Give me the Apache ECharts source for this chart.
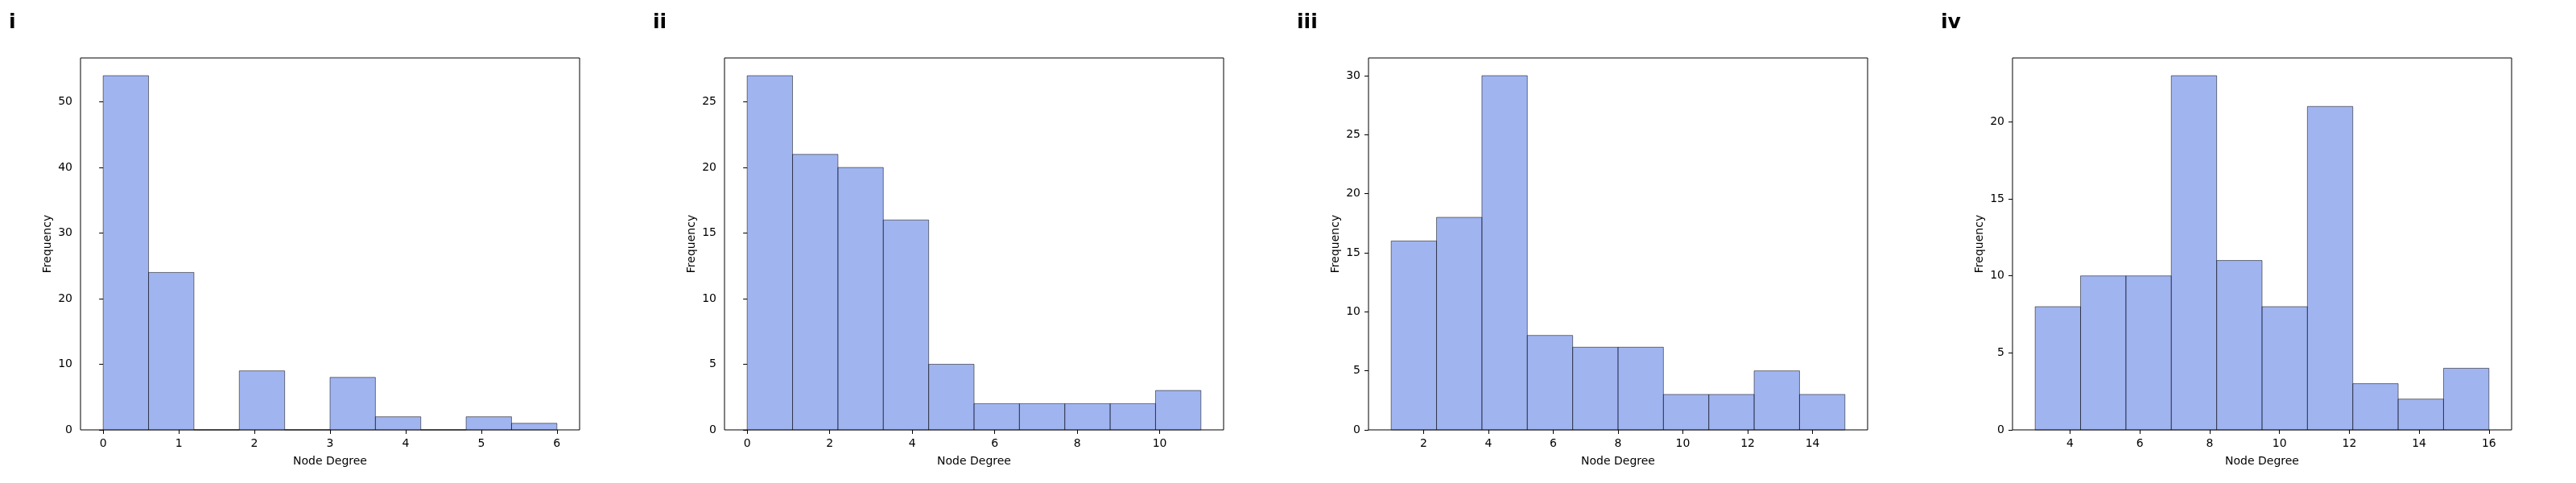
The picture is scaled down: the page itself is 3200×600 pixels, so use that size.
<!DOCTYPE html>
<html>
<head>
<meta charset="utf-8">
<script src="https://cdn.jsdelivr.net/npm/echarts@6/dist/echarts.min.js"></script>
<style>
  html, body { margin: 0; padding: 0; background: #fff; }
  #chart { width: 3200px; height: 600px; }
</style>
</head>
<body>
<div id="chart"></div>
<script>
// histogram bin edges and counts, one pair per panel
var edgesI = [0, 0.6, 1.2, 1.8, 2.4, 3.0, 3.6, 4.2, 4.8, 5.4, 6.0];
var countsI = [54, 24, 0, 9, 0, 8, 2, 0, 2, 1];

var edgesII = [0, 1.1, 2.2, 3.3, 4.4, 5.5, 6.6, 7.7, 8.8, 9.9, 11];
var countsII = [27, 21, 20, 16, 5, 2, 2, 2, 2, 3];

var edgesIII = [1, 2.4, 3.8, 5.2, 6.6, 8.0, 9.4, 10.8, 12.2, 13.6, 15];
var countsIII = [16, 18, 30, 8, 7, 7, 3, 3, 5, 3];

var edgesIV = [3, 4.3, 5.6, 6.9, 8.2, 9.5, 10.8, 12.1, 13.4, 14.7, 16];
var countsIV = [8, 10, 10, 23, 11, 8, 21, 3, 2, 4];

// tick labels
var xTicksI = [0, 1, 2, 3, 4, 5, 6];
var xTicksII = [0, 2, 4, 6, 8, 10];
var xTicksIII = [2, 4, 6, 8, 10, 12, 14];
var xTicksIV = [4, 6, 8, 10, 12, 14, 16];
var yTicksI = [0, 10, 20, 30, 40, 50];
var yTicksII = [0, 5, 10, 15, 20, 25];
var yTicksIII = [0, 5, 10, 15, 20, 25, 30];
var yTicksIV = [0, 5, 10, 15, 20];

var panelNames = ['i', 'ii', 'iii', 'iv'];

var panels = [
  { edges: edgesI, counts: countsI, xt: xTicksI, yt: yTicksI, xmin: -0.3, xmax: 6.3, ymax: 56.7 },
  { edges: edgesII, counts: countsII, xt: xTicksII, yt: yTicksII, xmin: -0.55, xmax: 11.55, ymax: 28.35 },
  { edges: edgesIII, counts: countsIII, xt: xTicksIII, yt: yTicksIII, xmin: 0.3, xmax: 15.7, ymax: 31.5 },
  { edges: edgesIV, counts: countsIV, xt: xTicksIV, yt: yTicksIV, xmin: 2.35, xmax: 16.65, ymax: 24.15 }
];

var font = 'DejaVu Sans';
var myChart = echarts.init(document.getElementById('chart'));

var grids = [], xAxes = [], yAxes = [], series = [], titles = [];

panels.forEach(function (p, k) {
  var x0 = 800 * k;
  grids.push({
    left: x0 + 100, top: 72, width: 620, height: 462,
    show: true, borderColor: '#000', borderWidth: 1, backgroundColor: 'transparent'
  });
  titles.push({
    text: panelNames[k], left: x0 + 6, top: 11,
    textStyle: { fontFamily: font, fontSize: 25, fontWeight: 'bold', color: '#000' }
  });
  xAxes.push({
    type: 'value', gridIndex: k, min: p.xmin, max: p.xmax,
    name: 'Node Degree', nameLocation: 'middle', nameGap: 32,
    nameTextStyle: { fontFamily: font, fontSize: 14, color: '#000' },
    axisLine: { show: false },
    axisTick: { show: true, length: 5, lineStyle: { color: '#000' }, customValues: p.xt },
    axisLabel: { fontFamily: font, fontSize: 14, color: '#000', margin: 10, customValues: p.xt },
    splitLine: { show: false }
  });
  yAxes.push({
    type: 'value', gridIndex: k, min: 0, max: p.ymax,
    name: 'Frequency', nameLocation: 'middle', nameGap: 34,
    nameTextStyle: { fontFamily: font, fontSize: 14, color: '#000' },
    axisLine: { show: false },
    axisTick: { show: true, length: 5, lineStyle: { color: '#000' }, customValues: p.yt },
    axisLabel: { fontFamily: font, fontSize: 14, color: '#000', margin: 10, customValues: p.yt },
    splitLine: { show: false }
  });
  var data = p.counts.map(function (c, i) {
    return [p.edges[i], p.edges[i + 1], c];
  });
  series.push({
    type: 'custom', xAxisIndex: k, yAxisIndex: k,
    encode: { x: [0, 1], y: 2 },
    data: data,
    renderItem: function (params, api) {
      var a = api.coord([api.value(0), api.value(2)]);
      var b = api.coord([api.value(1), 0]);
      return {
        type: 'rect',
        shape: { x: a[0], y: a[1], width: b[0] - a[0], height: b[1] - a[1] },
        style: { fill: 'rgba(65,105,225,0.5)', stroke: 'rgba(0,0,0,0.5)', lineWidth: 1 }
      };
    }
  });
});

myChart.setOption({
  backgroundColor: '#fff',
  animation: false,
  title: titles,
  grid: grids,
  xAxis: xAxes,
  yAxis: yAxes,
  series: series
});
</script>
</body>
</html>
